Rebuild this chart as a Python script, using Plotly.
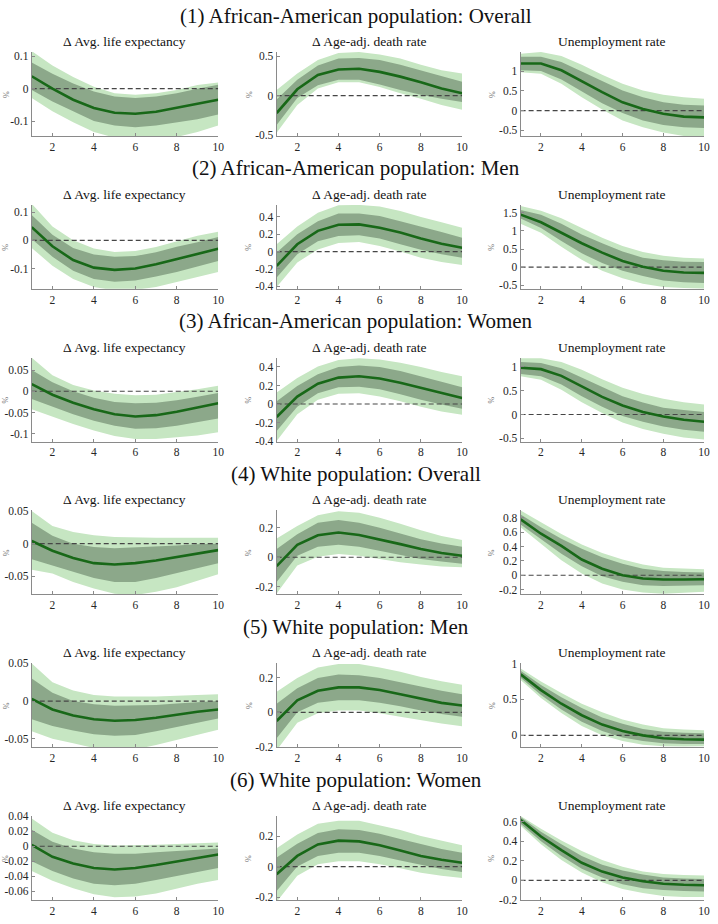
import plotly.graph_objects as go

horizon = [1, 2, 3, 4, 5, 6, 7, 8, 9, 10]
x_ticks = [2, 4, 6, 8, 10]

row_titles = [
    "(1) African-American population: Overall",
    "(2) African-American population: Men",
    "(3) African-American population: Women",
    "(4) White population: Overall",
    "(5) White population: Men",
    "(6) White population: Women",
]
col_titles = ["Δ Avg. life expectancy", "Δ Age-adj. death rate", "Unemployment rate"]

# ---- (1) African-American overall ----
aa_all_le_med = [0.038, 0.0, -0.034, -0.059, -0.074, -0.077, -0.071, -0.059, -0.047, -0.034]
aa_all_le_in_hi = [0.08, 0.046, 0.016, -0.009, -0.024, -0.029, -0.024, -0.014, 0.0, 0.012]
aa_all_le_in_lo = [-0.004, -0.039, -0.069, -0.099, -0.113, -0.118, -0.113, -0.103, -0.094, -0.079]
aa_all_le_out_hi = [0.115, 0.071, 0.036, 0.006, -0.014, -0.019, -0.014, -0.004, 0.011, 0.019]
aa_all_le_out_lo = [-0.029, -0.069, -0.103, -0.133, -0.15, -0.155, -0.155, -0.148, -0.133, -0.113]

aa_all_dr_med = [-0.22, 0.08, 0.26, 0.33, 0.34, 0.30, 0.24, 0.17, 0.09, 0.03]
aa_all_dr_in_hi = [-0.05, 0.2, 0.38, 0.47, 0.475, 0.45, 0.39, 0.32, 0.25, 0.175]
aa_all_dr_in_lo = [-0.37, -0.03, 0.13, 0.2, 0.2, 0.14, 0.07, 0.01, -0.04, -0.08]
aa_all_dr_out_hi = [0.07, 0.28, 0.45, 0.54, 0.55, 0.52, 0.47, 0.39, 0.32, 0.28]
aa_all_dr_out_lo = [-0.47, -0.12, 0.09, 0.17, 0.17, 0.11, 0.03, -0.04, -0.12, -0.18]

aa_all_ur_med = [1.19, 1.19, 1.02, 0.74, 0.47, 0.21, 0.04, -0.08, -0.15, -0.17]
aa_all_ur_in_hi = [1.36, 1.36, 1.23, 0.99, 0.74, 0.51, 0.34, 0.21, 0.15, 0.13]
aa_all_ur_in_lo = [1.02, 1.0, 0.79, 0.48, 0.19, -0.06, -0.25, -0.36, -0.42, -0.44]
aa_all_ur_out_hi = [1.44, 1.48, 1.38, 1.16, 0.91, 0.68, 0.51, 0.40, 0.34, 0.30]
aa_all_ur_out_lo = [0.97, 0.93, 0.68, 0.34, 0.03, -0.25, -0.42, -0.55, -0.64, -0.68]

# ---- (2) African-American men ----
aa_men_le_med = [0.047, -0.021, -0.07, -0.097, -0.105, -0.1, -0.085, -0.067, -0.05, -0.03]
aa_men_le_in_hi = [0.09, 0.02, -0.027, -0.05, -0.058, -0.056, -0.042, -0.023, -0.007, 0.012]
aa_men_le_in_lo = [0.005, -0.058, -0.108, -0.137, -0.147, -0.143, -0.128, -0.112, -0.093, -0.073]
aa_men_le_out_hi = [0.13, 0.049, 0.0, -0.029, -0.041, -0.038, -0.024, -0.003, 0.016, 0.031]
aa_men_le_out_lo = [-0.027, -0.09, -0.137, -0.166, -0.178, -0.176, -0.166, -0.148, -0.131, -0.112]

aa_men_dr_med = [-0.165, 0.085, 0.24, 0.31, 0.315, 0.275, 0.22, 0.15, 0.09, 0.045]
aa_men_dr_in_hi = [-0.01, 0.2, 0.35, 0.44, 0.44, 0.41, 0.35, 0.29, 0.225, 0.16]
aa_men_dr_in_lo = [-0.3, -0.03, 0.12, 0.18, 0.19, 0.15, 0.085, 0.02, -0.03, -0.07]
aa_men_dr_out_hi = [0.085, 0.29, 0.45, 0.535, 0.54, 0.52, 0.47, 0.4, 0.34, 0.275]
aa_men_dr_out_lo = [-0.41, -0.125, 0.025, 0.1, 0.11, 0.065, 0.0, -0.07, -0.12, -0.155]

aa_men_ur_med = [1.45, 1.24, 0.95, 0.66, 0.4, 0.17, 0.01, -0.1, -0.15, -0.16]
aa_men_ur_in_hi = [1.58, 1.45, 1.2, 0.9, 0.66, 0.43, 0.26, 0.19, 0.15, 0.14]
aa_men_ur_in_lo = [1.34, 1.08, 0.72, 0.38, 0.11, -0.1, -0.25, -0.37, -0.42, -0.44]
aa_men_ur_out_hi = [1.69, 1.56, 1.35, 1.08, 0.81, 0.58, 0.42, 0.31, 0.26, 0.24]
aa_men_ur_out_lo = [1.2, 0.95, 0.56, 0.2, -0.1, -0.31, -0.46, -0.55, -0.58, -0.6]

# ---- (3) African-American women ----
aa_wom_le_med = [0.017, -0.008, -0.027, -0.042, -0.054, -0.059, -0.056, -0.048, -0.038, -0.028]
aa_wom_le_in_hi = [0.05, 0.021, 0.0, -0.015, -0.025, -0.028, -0.027, -0.021, -0.013, -0.004]
aa_wom_le_in_lo = [-0.018, -0.036, -0.054, -0.069, -0.081, -0.088, -0.087, -0.081, -0.073, -0.064]
aa_wom_le_out_hi = [0.079, 0.038, 0.015, 0.002, -0.006, -0.009, -0.008, -0.002, 0.005, 0.013]
aa_wom_le_out_lo = [-0.042, -0.059, -0.077, -0.092, -0.105, -0.112, -0.112, -0.108, -0.104, -0.096]

aa_wom_dr_med = [-0.14, 0.08, 0.22, 0.285, 0.3, 0.275, 0.23, 0.175, 0.115, 0.065]
aa_wom_dr_in_hi = [0.03, 0.195, 0.32, 0.4, 0.415, 0.4, 0.355, 0.3, 0.24, 0.18]
aa_wom_dr_in_lo = [-0.29, -0.03, 0.115, 0.18, 0.185, 0.16, 0.105, 0.045, -0.005, -0.05]
aa_wom_dr_out_hi = [0.125, 0.28, 0.405, 0.475, 0.495, 0.48, 0.445, 0.4, 0.345, 0.3]
aa_wom_dr_out_lo = [-0.4, -0.11, 0.045, 0.11, 0.115, 0.08, 0.03, -0.03, -0.08, -0.115]

aa_wom_ur_med = [0.98, 0.95, 0.81, 0.59, 0.37, 0.19, 0.055, -0.04, -0.11, -0.15]
aa_wom_ur_in_hi = [1.1, 1.08, 0.97, 0.78, 0.58, 0.385, 0.25, 0.145, 0.095, 0.055]
aa_wom_ur_in_lo = [0.85, 0.8, 0.63, 0.385, 0.165, -0.03, -0.15, -0.25, -0.32, -0.36]
aa_wom_ur_out_hi = [1.18, 1.18, 1.1, 0.935, 0.74, 0.56, 0.43, 0.33, 0.26, 0.21]
aa_wom_ur_out_lo = [0.8, 0.73, 0.52, 0.26, 0.03, -0.165, -0.3, -0.4, -0.48, -0.52]

# ---- (4) White overall ----
wh_all_le_med = [0.004, -0.011, -0.022, -0.03, -0.032, -0.03, -0.026, -0.021, -0.015, -0.01]
wh_all_le_in_hi = [0.032, 0.012, 0.0, -0.005, -0.007, -0.006, -0.005, -0.003, -0.001, 0.0]
wh_all_le_in_lo = [-0.024, -0.034, -0.044, -0.053, -0.059, -0.059, -0.053, -0.045, -0.037, -0.03]
wh_all_le_out_hi = [0.05, 0.027, 0.018, 0.013, 0.01, 0.009, 0.009, 0.009, 0.009, 0.009]
wh_all_le_out_lo = [-0.04, -0.046, -0.059, -0.069, -0.077, -0.079, -0.074, -0.067, -0.057, -0.047]

wh_all_dr_med = [-0.06, 0.084, 0.149, 0.167, 0.151, 0.122, 0.089, 0.056, 0.029, 0.011]
wh_all_dr_in_hi = [0.056, 0.156, 0.233, 0.251, 0.233, 0.2, 0.16, 0.122, 0.093, 0.071]
wh_all_dr_in_lo = [-0.167, 0.011, 0.071, 0.084, 0.071, 0.044, 0.018, -0.011, -0.029, -0.044]
wh_all_dr_out_hi = [0.127, 0.211, 0.284, 0.311, 0.3, 0.267, 0.227, 0.182, 0.144, 0.116]
wh_all_dr_out_lo = [-0.244, -0.056, 0.004, 0.022, 0.011, -0.011, -0.033, -0.049, -0.062, -0.067]

wh_all_ur_med = [0.78, 0.58, 0.41, 0.22, 0.09, 0.0, -0.046, -0.06, -0.06, -0.055]
wh_all_ur_in_hi = [0.85, 0.67, 0.51, 0.37, 0.25, 0.16, 0.09, 0.06, 0.046, 0.037]
wh_all_ur_in_lo = [0.71, 0.51, 0.3, 0.124, -0.014, -0.09, -0.14, -0.15, -0.15, -0.14]
wh_all_ur_out_hi = [0.905, 0.735, 0.575, 0.43, 0.31, 0.22, 0.15, 0.106, 0.092, 0.083]
wh_all_ur_out_lo = [0.67, 0.44, 0.21, 0.023, -0.115, -0.2, -0.24, -0.26, -0.25, -0.23]

# ---- (5) White men ----
wh_men_le_med = [0.003, -0.011, -0.019, -0.024, -0.026, -0.025, -0.022, -0.018, -0.014, -0.011]
wh_men_le_in_hi = [0.03, 0.011, 0.0, -0.004, -0.006, -0.006, -0.005, -0.003, -0.001, 0.0]
wh_men_le_in_lo = [-0.024, -0.033, -0.039, -0.044, -0.046, -0.045, -0.04, -0.034, -0.028, -0.023]
wh_men_le_out_hi = [0.05, 0.025, 0.014, 0.008, 0.006, 0.006, 0.006, 0.007, 0.008, 0.009]
wh_men_le_out_lo = [-0.04, -0.05, -0.056, -0.062, -0.065, -0.064, -0.058, -0.051, -0.044, -0.038]

wh_men_dr_med = [-0.05, 0.07, 0.125, 0.145, 0.145, 0.13, 0.105, 0.08, 0.055, 0.04]
wh_men_dr_in_hi = [0.05, 0.14, 0.2, 0.22, 0.215, 0.2, 0.175, 0.15, 0.125, 0.105]
wh_men_dr_in_lo = [-0.15, 0.0, 0.055, 0.07, 0.07, 0.055, 0.035, 0.01, -0.01, -0.025]
wh_men_dr_out_hi = [0.12, 0.2, 0.26, 0.28, 0.28, 0.26, 0.235, 0.205, 0.18, 0.16]
wh_men_dr_out_lo = [-0.22, -0.06, -0.005, 0.01, 0.01, -0.005, -0.025, -0.045, -0.065, -0.08]

wh_men_ur_med = [0.85, 0.63, 0.44, 0.28, 0.15, 0.06, 0.0, -0.04, -0.055, -0.06]
wh_men_ur_in_hi = [0.9, 0.7, 0.53, 0.38, 0.25, 0.16, 0.09, 0.05, 0.035, 0.03]
wh_men_ur_in_lo = [0.8, 0.56, 0.36, 0.19, 0.06, -0.03, -0.08, -0.11, -0.12, -0.12]
wh_men_ur_out_hi = [0.93, 0.75, 0.59, 0.44, 0.32, 0.22, 0.15, 0.1, 0.08, 0.07]
wh_men_ur_out_lo = [0.77, 0.52, 0.31, 0.13, 0.0, -0.08, -0.13, -0.15, -0.155, -0.15]

# ---- (6) White women ----
wh_wom_le_med = [0.002, -0.014, -0.023, -0.029, -0.031, -0.029, -0.025, -0.02, -0.015, -0.011]
wh_wom_le_in_hi = [0.022, 0.006, -0.003, -0.008, -0.01, -0.01, -0.008, -0.006, -0.004, -0.003]
wh_wom_le_in_lo = [-0.02, -0.033, -0.043, -0.05, -0.052, -0.05, -0.045, -0.04, -0.034, -0.029]
wh_wom_le_out_hi = [0.037, 0.018, 0.008, 0.003, 0.001, 0.001, 0.002, 0.003, 0.004, 0.005]
wh_wom_le_out_lo = [-0.033, -0.046, -0.056, -0.064, -0.068, -0.067, -0.063, -0.056, -0.05, -0.045]

wh_wom_dr_med = [-0.05, 0.07, 0.145, 0.17, 0.165, 0.14, 0.105, 0.07, 0.045, 0.025]
wh_wom_dr_in_hi = [0.06, 0.15, 0.22, 0.245, 0.24, 0.215, 0.18, 0.145, 0.115, 0.09]
wh_wom_dr_in_lo = [-0.16, 0.0, 0.07, 0.09, 0.09, 0.07, 0.04, 0.01, -0.015, -0.035]
wh_wom_dr_out_hi = [0.12, 0.21, 0.28, 0.3, 0.3, 0.27, 0.24, 0.2, 0.17, 0.14]
wh_wom_dr_out_lo = [-0.23, -0.06, 0.015, 0.035, 0.035, 0.015, -0.01, -0.04, -0.06, -0.075]

wh_wom_ur_med = [0.62, 0.45, 0.31, 0.18, 0.09, 0.03, -0.01, -0.035, -0.045, -0.05]
wh_wom_ur_in_hi = [0.65, 0.5, 0.37, 0.25, 0.16, 0.1, 0.06, 0.03, 0.02, 0.015]
wh_wom_ur_in_lo = [0.58, 0.4, 0.25, 0.12, 0.03, -0.04, -0.08, -0.1, -0.11, -0.115]
wh_wom_ur_out_hi = [0.66, 0.53, 0.41, 0.3, 0.21, 0.14, 0.09, 0.065, 0.055, 0.05]
wh_wom_ur_out_lo = [0.56, 0.37, 0.21, 0.08, -0.02, -0.09, -0.13, -0.16, -0.17, -0.17]

# y-axis tick values per panel (row-major)
y_ticks = [
    [-0.1, 0, 0.1], [-0.5, 0, 0.5], [-0.5, 0, 0.5, 1],
    [-0.1, 0, 0.1], [-0.4, -0.2, 0, 0.2, 0.4], [-0.5, 0, 0.5, 1, 1.5],
    [-0.1, -0.05, 0, 0.05], [-0.4, -0.2, 0, 0.2, 0.4], [-0.5, 0, 0.5, 1],
    [-0.05, 0, 0.05], [-0.2, 0, 0.2], [-0.2, 0, 0.2, 0.4, 0.6, 0.8],
    [-0.05, 0, 0.05], [-0.2, 0, 0.2], [0, 0.5, 1],
    [-0.06, -0.04, -0.02, 0, 0.02, 0.04], [-0.2, 0, 0.2], [-0.2, 0, 0.2, 0.4, 0.6],
]
y_ranges = [
    [-0.145, 0.112], [-0.51, 0.55], [-0.64, 1.48],
    [-0.172, 0.126], [-0.43, 0.54], [-0.6, 1.72],
    [-0.118, 0.079], [-0.405, 0.5], [-0.565, 1.19],
    [-0.078, 0.051], [-0.25, 0.316], [-0.267, 0.905],
    [-0.061, 0.0502], [-0.202, 0.285], [-0.164, 1.003],
    [-0.0716, 0.0403], [-0.218, 0.331], [-0.201, 0.66],
]

panels = [
    (aa_all_le_med, aa_all_le_in_lo, aa_all_le_in_hi, aa_all_le_out_lo, aa_all_le_out_hi),
    (aa_all_dr_med, aa_all_dr_in_lo, aa_all_dr_in_hi, aa_all_dr_out_lo, aa_all_dr_out_hi),
    (aa_all_ur_med, aa_all_ur_in_lo, aa_all_ur_in_hi, aa_all_ur_out_lo, aa_all_ur_out_hi),
    (aa_men_le_med, aa_men_le_in_lo, aa_men_le_in_hi, aa_men_le_out_lo, aa_men_le_out_hi),
    (aa_men_dr_med, aa_men_dr_in_lo, aa_men_dr_in_hi, aa_men_dr_out_lo, aa_men_dr_out_hi),
    (aa_men_ur_med, aa_men_ur_in_lo, aa_men_ur_in_hi, aa_men_ur_out_lo, aa_men_ur_out_hi),
    (aa_wom_le_med, aa_wom_le_in_lo, aa_wom_le_in_hi, aa_wom_le_out_lo, aa_wom_le_out_hi),
    (aa_wom_dr_med, aa_wom_dr_in_lo, aa_wom_dr_in_hi, aa_wom_dr_out_lo, aa_wom_dr_out_hi),
    (aa_wom_ur_med, aa_wom_ur_in_lo, aa_wom_ur_in_hi, aa_wom_ur_out_lo, aa_wom_ur_out_hi),
    (wh_all_le_med, wh_all_le_in_lo, wh_all_le_in_hi, wh_all_le_out_lo, wh_all_le_out_hi),
    (wh_all_dr_med, wh_all_dr_in_lo, wh_all_dr_in_hi, wh_all_dr_out_lo, wh_all_dr_out_hi),
    (wh_all_ur_med, wh_all_ur_in_lo, wh_all_ur_in_hi, wh_all_ur_out_lo, wh_all_ur_out_hi),
    (wh_men_le_med, wh_men_le_in_lo, wh_men_le_in_hi, wh_men_le_out_lo, wh_men_le_out_hi),
    (wh_men_dr_med, wh_men_dr_in_lo, wh_men_dr_in_hi, wh_men_dr_out_lo, wh_men_dr_out_hi),
    (wh_men_ur_med, wh_men_ur_in_lo, wh_men_ur_in_hi, wh_men_ur_out_lo, wh_men_ur_out_hi),
    (wh_wom_le_med, wh_wom_le_in_lo, wh_wom_le_in_hi, wh_wom_le_out_lo, wh_wom_le_out_hi),
    (wh_wom_dr_med, wh_wom_dr_in_lo, wh_wom_dr_in_hi, wh_wom_dr_out_lo, wh_wom_dr_out_hi),
    (wh_wom_ur_med, wh_wom_ur_in_lo, wh_wom_ur_in_hi, wh_wom_ur_out_lo, wh_wom_ur_out_hi),
]

# ---- layout geometry (page pixels; body margin removed via post_script) ----
W, H = 718, 924


def px_x(x):
    return x / W


def px_y(y):
    return 1 - y / H


FONT = "Liberation Serif, Times New Roman, Times, serif"
col_x = [(32, 220), (279, 466), (525, 710)]
pct_x = [6, 251, 496]
row_top0, row_step, plot_h = 46.7, 154.8, 85

OUTER = "rgb(198,230,194)"
INNER = "rgb(140,168,138)"
LINE = "rgb(24,104,24)"

fig = go.Figure()
annotations = []
layout_axes = {}

for i, (med, in_lo, in_hi, out_lo, out_hi) in enumerate(panels):
    r, c = divmod(i, 3)
    n = i + 1
    xa = "x" if n == 1 else f"x{n}"
    ya = "y" if n == 1 else f"y{n}"
    common = dict(xaxis=xa, yaxis=ya, showlegend=False, hoverinfo="skip")

    fig.add_trace(go.Scatter(x=horizon, y=out_hi, mode="lines", line=dict(width=0, color=OUTER), **common))
    fig.add_trace(go.Scatter(x=horizon, y=out_lo, mode="lines", line=dict(width=0, color=OUTER),
                             fill="tonexty", fillcolor=OUTER, **common))
    fig.add_trace(go.Scatter(x=horizon, y=in_hi, mode="lines", line=dict(width=0, color=INNER), **common))
    fig.add_trace(go.Scatter(x=horizon, y=in_lo, mode="lines", line=dict(width=0, color=INNER),
                             fill="tonexty", fillcolor=INNER, **common))
    fig.add_trace(go.Scatter(x=[horizon[0], horizon[-1]], y=[0, 0], mode="lines",
                             line=dict(width=1.1, color="rgb(70,70,70)", dash="5px,3px"), **common))
    fig.add_trace(go.Scatter(x=horizon, y=med, mode="lines",
                             line=dict(width=2.6, color=LINE), **common))

    top = row_top0 + r * row_step
    bot = top + plot_h
    x0, x1 = col_x[c]
    xkey = "xaxis" if n == 1 else f"xaxis{n}"
    ykey = "yaxis" if n == 1 else f"yaxis{n}"
    tick_font = dict(family=FONT, size=11.5, color="#262626")
    layout_axes[xkey] = dict(
        domain=[px_x(x0), px_x(x1)], anchor=ya, range=[1, 10],
        tickvals=x_ticks, ticktext=[str(v) for v in x_ticks],
        showline=True, linecolor="#8a8a8a", linewidth=1, ticks="inside", ticklen=3,
        tickcolor="#8a8a8a", showgrid=False, zeroline=False, tickfont=tick_font,
    )
    layout_axes[ykey] = dict(
        domain=[px_y(bot), px_y(top)], anchor=xa, range=y_ranges[i],
        tickvals=y_ticks[i], ticktext=[f"{v:g}" for v in y_ticks[i]],
        showline=True, linecolor="#8a8a8a", linewidth=1, ticks="inside", ticklen=3,
        tickcolor="#8a8a8a", showgrid=False, zeroline=False, tickfont=tick_font,
    )
    # subplot title
    annotations.append(dict(text=col_titles[c], x=px_x((x0 + x1) / 2), y=px_y(top - 10.7),
                            xref="paper", yref="paper", showarrow=False, xanchor="center",
                            yanchor="middle", font=dict(family=FONT, size=13.5, color="#111")))
    # "%" axis label
    annotations.append(dict(text="%", x=px_x(pct_x[c]), y=px_y(top + plot_h / 2),
                            xref="paper", yref="paper", showarrow=False, textangle=-90,
                            xanchor="center", yanchor="middle",
                            font=dict(family=FONT, size=8, color="#777")))

for r, t in enumerate(row_titles):
    top = row_top0 + r * row_step
    annotations.append(dict(text=t, x=px_x(359), y=px_y(top - 37), xref="paper", yref="paper",
                            showarrow=False, xanchor="center", yanchor="middle",
                            font=dict(family=FONT, size=21, color="#111")))

fig.update_layout(
    width=W, height=H, margin=dict(l=0, r=0, t=0, b=0),
    paper_bgcolor="white", plot_bgcolor="white", hovermode=False,
    annotations=annotations, **layout_axes,
)

fig.write_html("out.html", config={"displayModeBar": False, "staticPlot": True},
               post_script="document.body.style.margin='0px';")
